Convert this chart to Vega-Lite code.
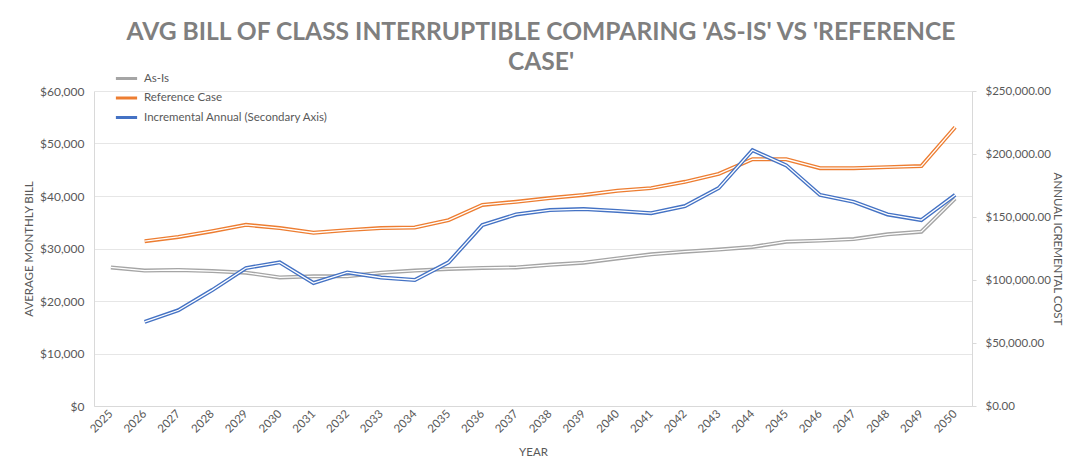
{
  "$schema": "https://vega.github.io/schema/vega-lite/v6.json",
  "width": 878,
  "height": 315,
  "autosize": {"type": "none"},
  "padding": {"left": 94, "top": 91, "right": 98, "bottom": 69},
  "background": "white",
  "title": {
    "text": ["AVG BILL OF CLASS INTERRUPTIBLE COMPARING 'AS-IS' VS 'REFERENCE", "CASE'"],
    "frame": "group",
    "anchor": "middle",
    "offset": -10,
    "dx": 8,
    "font": "Lato",
    "fontSize": 24.6,
    "fontWeight": "bold",
    "color": "#7f7f7f",
    "lineHeight": 30
  },
  "datasets": {
    "left": [
      {"year": 2025, "series": "As-Is", "value": 26400},
      {"year": 2026, "series": "As-Is", "value": 25800},
      {"year": 2027, "series": "As-Is", "value": 25900},
      {"year": 2028, "series": "As-Is", "value": 25700},
      {"year": 2029, "series": "As-Is", "value": 25400},
      {"year": 2030, "series": "As-Is", "value": 24500},
      {"year": 2031, "series": "As-Is", "value": 24700},
      {"year": 2032, "series": "As-Is", "value": 24700},
      {"year": 2033, "series": "As-Is", "value": 25400},
      {"year": 2034, "series": "As-Is", "value": 25800},
      {"year": 2035, "series": "As-Is", "value": 26100},
      {"year": 2036, "series": "As-Is", "value": 26300},
      {"year": 2037, "series": "As-Is", "value": 26400},
      {"year": 2038, "series": "As-Is", "value": 26900},
      {"year": 2039, "series": "As-Is", "value": 27300},
      {"year": 2040, "series": "As-Is", "value": 28100},
      {"year": 2041, "series": "As-Is", "value": 28900},
      {"year": 2042, "series": "As-Is", "value": 29400},
      {"year": 2043, "series": "As-Is", "value": 29800},
      {"year": 2044, "series": "As-Is", "value": 30300},
      {"year": 2045, "series": "As-Is", "value": 31300},
      {"year": 2046, "series": "As-Is", "value": 31500},
      {"year": 2047, "series": "As-Is", "value": 31800},
      {"year": 2048, "series": "As-Is", "value": 32700},
      {"year": 2049, "series": "As-Is", "value": 33200},
      {"year": 2050, "series": "As-Is", "value": 39500},
      {"year": 2026, "series": "Reference Case", "value": 31400},
      {"year": 2027, "series": "Reference Case", "value": 32200},
      {"year": 2028, "series": "Reference Case", "value": 33300},
      {"year": 2029, "series": "Reference Case", "value": 34500},
      {"year": 2030, "series": "Reference Case", "value": 33900},
      {"year": 2031, "series": "Reference Case", "value": 33000},
      {"year": 2032, "series": "Reference Case", "value": 33500},
      {"year": 2033, "series": "Reference Case", "value": 33900},
      {"year": 2034, "series": "Reference Case", "value": 34000},
      {"year": 2035, "series": "Reference Case", "value": 35400},
      {"year": 2036, "series": "Reference Case", "value": 38300},
      {"year": 2037, "series": "Reference Case", "value": 38900},
      {"year": 2038, "series": "Reference Case", "value": 39600},
      {"year": 2039, "series": "Reference Case", "value": 40200},
      {"year": 2040, "series": "Reference Case", "value": 41000},
      {"year": 2041, "series": "Reference Case", "value": 41500},
      {"year": 2042, "series": "Reference Case", "value": 42700},
      {"year": 2043, "series": "Reference Case", "value": 44200},
      {"year": 2044, "series": "Reference Case", "value": 47000},
      {"year": 2045, "series": "Reference Case", "value": 47000},
      {"year": 2046, "series": "Reference Case", "value": 45300},
      {"year": 2047, "series": "Reference Case", "value": 45300},
      {"year": 2048, "series": "Reference Case", "value": 45500},
      {"year": 2049, "series": "Reference Case", "value": 45700},
      {"year": 2050, "series": "Reference Case", "value": 53100}
    ],
    "right": [
      {"year": 2026, "series": "Incremental Annual (Secondary Axis)", "value": 66700},
      {"year": 2027, "series": "Incremental Annual (Secondary Axis)", "value": 76000},
      {"year": 2028, "series": "Incremental Annual (Secondary Axis)", "value": 92000},
      {"year": 2029, "series": "Incremental Annual (Secondary Axis)", "value": 109500},
      {"year": 2030, "series": "Incremental Annual (Secondary Axis)", "value": 114000},
      {"year": 2031, "series": "Incremental Annual (Secondary Axis)", "value": 97600},
      {"year": 2032, "series": "Incremental Annual (Secondary Axis)", "value": 106000},
      {"year": 2033, "series": "Incremental Annual (Secondary Axis)", "value": 102000},
      {"year": 2034, "series": "Incremental Annual (Secondary Axis)", "value": 100000},
      {"year": 2035, "series": "Incremental Annual (Secondary Axis)", "value": 114000},
      {"year": 2036, "series": "Incremental Annual (Secondary Axis)", "value": 143600},
      {"year": 2037, "series": "Incremental Annual (Secondary Axis)", "value": 152000},
      {"year": 2038, "series": "Incremental Annual (Secondary Axis)", "value": 155500},
      {"year": 2039, "series": "Incremental Annual (Secondary Axis)", "value": 156300},
      {"year": 2040, "series": "Incremental Annual (Secondary Axis)", "value": 154800},
      {"year": 2041, "series": "Incremental Annual (Secondary Axis)", "value": 153000},
      {"year": 2042, "series": "Incremental Annual (Secondary Axis)", "value": 158700},
      {"year": 2043, "series": "Incremental Annual (Secondary Axis)", "value": 173000},
      {"year": 2044, "series": "Incremental Annual (Secondary Axis)", "value": 203000},
      {"year": 2045, "series": "Incremental Annual (Secondary Axis)", "value": 191000},
      {"year": 2046, "series": "Incremental Annual (Secondary Axis)", "value": 167500},
      {"year": 2047, "series": "Incremental Annual (Secondary Axis)", "value": 162000},
      {"year": 2048, "series": "Incremental Annual (Secondary Axis)", "value": 152000},
      {"year": 2049, "series": "Incremental Annual (Secondary Axis)", "value": 147600},
      {"year": 2050, "series": "Incremental Annual (Secondary Axis)", "value": 167500}
    ]
  },
  "encoding": {
    "x": {
      "field": "year",
      "type": "ordinal",
      "scale": {"type": "point", "padding": 0.5, "domain": [2025,2026,2027,2028,2029,2030,2031,2032,2033,2034,2035,2036,2037,2038,2039,2040,2041,2042,2043,2044,2045,2046,2047,2048,2049,2050]},
      "axis": {
        "title": "YEAR",
        "labelAngle": -45,
        "labelAlign": "right",
        "labelBaseline": "middle",
        "labelPadding": 6,
        "labelFontSize": 11.5,
        "labelColor": "#595959",
        "ticks": false,
        "domainColor": "#d9d9d9",
        "titlePadding": 12,
        "titleColor": "#595959",
        "grid": false
      }
    }
  },
  "layer": [
    {
      "data": {"name": "left"},
      "encoding": {
        "y": {
          "field": "value",
          "type": "quantitative",
          "scale": {"domain": [0, 60000], "nice": false},
          "axis": {
            "title": "AVERAGE MONTHLY BILL",
            "orient": "left",
            "values": [0, 10000, 20000, 30000, 40000, 50000, 60000],
            "format": "$,.0f",
            "grid": true,
            "gridColor": "#e6e6e6",
            "ticks": false,
            "domain": true,
            "domainColor": "#d9d9d9",
            "labelPadding": 10,
            "titlePadding": 5,
            "titleColor": "#595959"
          }
        }
      },
      "layer": [
        {
          "mark": {"type": "line", "strokeWidth": 4},
          "encoding": {
            "color": {
              "field": "series",
              "type": "nominal",
              "scale": {
                "domain": ["As-Is", "Reference Case", "Incremental Annual (Secondary Axis)"],
                "range": ["#a5a5a5", "#ed7d31", "#4472c4"]
              },
              "legend": {
                "title": null,
                "orient": "none",
                "legendX": 20,
                "legendY": -25,
                "symbolType": "stroke",
                "symbolSize": 450,
                "symbolStrokeWidth": 3,
                "labelFont": "Lato",
                "labelFontSize": 11.5,
                "labelColor": "#595959",
                "labelOffset": 5,
                "labelLimit": 400,
                "rowPadding": 0.5
              }
            }
          }
        },
        {
          "mark": {"type": "line", "strokeWidth": 1.3, "color": "white"},
          "encoding": {"detail": {"field": "series", "type": "nominal"}}
        }
      ]
    },
    {
      "data": {"name": "right"},
      "encoding": {
        "y": {
          "field": "value",
          "type": "quantitative",
          "scale": {"domain": [0, 250000], "nice": false},
          "axis": {
            "title": "ANNUAL ICREMENTAL COST",
            "orient": "right",
            "values": [0, 50000, 100000, 150000, 200000, 250000],
            "format": "$,.2f",
            "labelFontSize": 11.5,
            "grid": false,
            "ticks": true,
            "tickSize": 4,
            "tickColor": "#d9d9d9",
            "domain": true,
            "domainColor": "#d9d9d9",
            "labelPadding": 9,
            "titlePadding": 1,
            "titleColor": "#595959"
          }
        }
      },
      "layer": [
        {
          "mark": {"type": "line", "strokeWidth": 4},
          "encoding": {"color": {"field": "series", "type": "nominal"}}
        },
        {
          "mark": {"type": "line", "strokeWidth": 1.3, "color": "white"},
          "encoding": {}
        }
      ]
    }
  ],
  "resolve": {"scale": {"y": "independent"}},
  "config": {
    "view": {"stroke": null},
    "axis": {
      "labelFont": "Lato",
      "labelFontSize": 12,
      "labelColor": "#595959",
      "titleFont": "Lato",
      "titleFontSize": 11.5,
      "titleFontWeight": "normal",
      "titleColor": "#595959"
    }
  }
}
